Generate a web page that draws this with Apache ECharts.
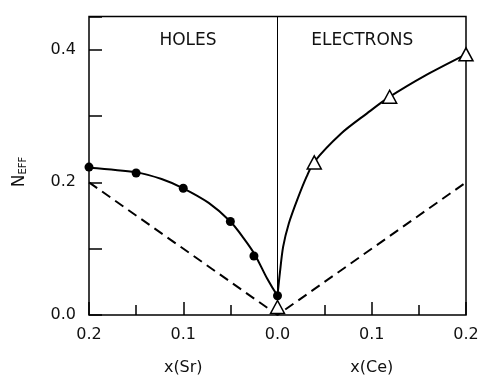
<!DOCTYPE html>
<html>
<head>
<meta charset="utf-8">
<script src="https://cdn.jsdelivr.net/npm/echarts@6/dist/echarts.min.js"></script>
<style>
  html, body { margin: 0; padding: 0; background: #fff; }
  #main { width: 494px; height: 384px; }
</style>
</head>
<body>
<div id="main"></div>
<script>
// 数据：左半边是 x(Sr)（用负值表示），右半边是 x(Ce)
var holeX = [-0.2, -0.15, -0.1, -0.05, -0.025, 0];
var holeY = [0.223, 0.214, 0.191, 0.141, 0.089, 0.029];

// 空穴曲线（从图上读出的点）
var holeCurveX = [-0.2, -0.15, -0.123, -0.1, -0.073, -0.05, -0.036, -0.024, -0.011, 0];
var holeCurveY = [0.222, 0.215, 0.205, 0.191, 0.169, 0.141, 0.116, 0.091, 0.055, 0.029];

var elecX = [0, 0.039, 0.119, 0.2];
var elecY = [0.012, 0.23, 0.329, 0.393];

// 电子曲线（从图上读出的点）
var elecCurveX = [0, 0.0025, 0.006, 0.012, 0.021, 0.031, 0.039, 0.067, 0.095, 0.118, 0.158, 0.2];
var elecCurveY = [0.029, 0.063, 0.103, 0.138, 0.174, 0.209, 0.231, 0.273, 0.304, 0.328, 0.362, 0.393];

// 虚线
var dashX = [-0.2, 0, 0.2];
var dashY = [0.2, 0, 0.2];

var yTickLabels = ['0.0', '0.2', '0.4'];

function pairs(xs, ys) {
    var out = [];
    for (var i = 0; i < xs.length; i++) {
        out.push([xs[i], ys[i]]);
    }
    return out;
}

var font = 'DejaVu Sans';
var chart = echarts.init(document.getElementById('main'));

var option = {
    animation: false,
    grid: {
        left: 89, right: 28, top: 16.5, bottom: 69,
        show: true, borderColor: '#000', borderWidth: 1.5, backgroundColor: 'transparent'
    },
    xAxis: {
        type: 'value', min: -0.2, max: 0.2, interval: 0.1,
        axisLine: { show: false, onZero: false },
        splitLine: { show: false },
        axisTick: { inside: true, length: 13, lineStyle: { color: '#000', width: 1.5 } },
        minorTick: { show: true, splitNumber: 2, length: 10, lineStyle: { color: '#000', width: 1.5 } },
        axisLabel: {
            margin: 12, color: '#111', fontFamily: font, fontSize: 16,
            formatter: function (v) { return Math.abs(v).toFixed(1); }
        }
    },
    yAxis: {
        type: 'value', min: 0, max: 0.45, interval: 0.1,
        axisLine: { show: false, onZero: false },
        splitLine: { show: false },
        axisTick: { inside: true, length: 13, lineStyle: { color: '#000', width: 1.5 } },
        axisLabel: {
            margin: 13, color: '#111', fontFamily: font, fontSize: 16,
            formatter: function (v) {
                var s = v.toFixed(1);
                if (Math.abs(v - Math.round(v * 10) / 10) > 1e-6) return '';
                return yTickLabels.indexOf(s) >= 0 ? s : '';
            }
        }
    },
    series: [
        {
            // 虚线
            type: 'line', data: pairs(dashX, dashY), symbol: 'none',
            lineStyle: { color: '#000', width: 2, type: [10, 6] },
            markLine: {
                silent: true, symbol: 'none', label: { show: false },
                lineStyle: { color: '#000', width: 1, type: 'solid' },
                data: [{ xAxis: 0 }]
            }
        },
        {
            // 空穴曲线
            type: 'line', data: pairs(holeCurveX, holeCurveY), smooth: 0.3,
            symbol: 'none',
            lineStyle: { color: '#000', width: 2 }
        },
        {
            // 空穴数据点
            type: 'scatter', data: pairs(holeX, holeY),
            symbol: 'circle', symbolSize: 9,
            itemStyle: { color: '#000', opacity: 1 }, z: 5
        },
        {
            // 电子曲线
            type: 'line', data: pairs(elecCurveX, elecCurveY), smooth: 0.3,
            symbol: 'none',
            lineStyle: { color: '#000', width: 2 }
        },
        {
            // 电子数据点（空心三角）
            type: 'scatter', data: pairs(elecX, elecY),
            symbol: 'triangle', symbolSize: [14, 13],
            itemStyle: { color: '#fff', borderColor: '#000', borderWidth: 1.5, opacity: 1 },
            z: 5
        }
    ]
};

chart.setOption(option);

// 文字标注
function px(x, y) { return chart.convertToPixel({ gridIndex: 0 }, [x, y]); }
var pHoles = px(-0.095, 0.4136);
var pElec = px(0.09, 0.4136);
var pSr = px(-0.1, 0);
var pCe = px(0.1, 0);

function txt(p, y, s, size) {
    return {
        type: 'text', x: p[0], y: y,
        style: { text: s, fill: '#111', font: size + 'px ' + font, textAlign: 'center', textVerticalAlign: 'middle' }
    };
}

chart.setOption({
    graphic: [
        txt(pHoles, pHoles[1], 'HOLES', 17),
        txt(pElec, pElec[1], 'ELECTRONS', 17),
        txt(pSr, 368, 'x(Sr)', 16),
        txt(pCe, 368, 'x(Ce)', 16),
        {
            type: 'text', x: 20, y: 172, rotation: Math.PI / 2,
            style: {
                text: '{n|N}{s|EFF}', fill: '#111', textAlign: 'center', textVerticalAlign: 'middle',
                rich: {
                    n: { fontSize: 17, fontFamily: font, fill: '#111' },
                    s: { fontSize: 10, fontFamily: font, fill: '#111', padding: [6, 0, 0, 0] }
                }
            }
        }
    ]
});
</script>
</body>
</html>
